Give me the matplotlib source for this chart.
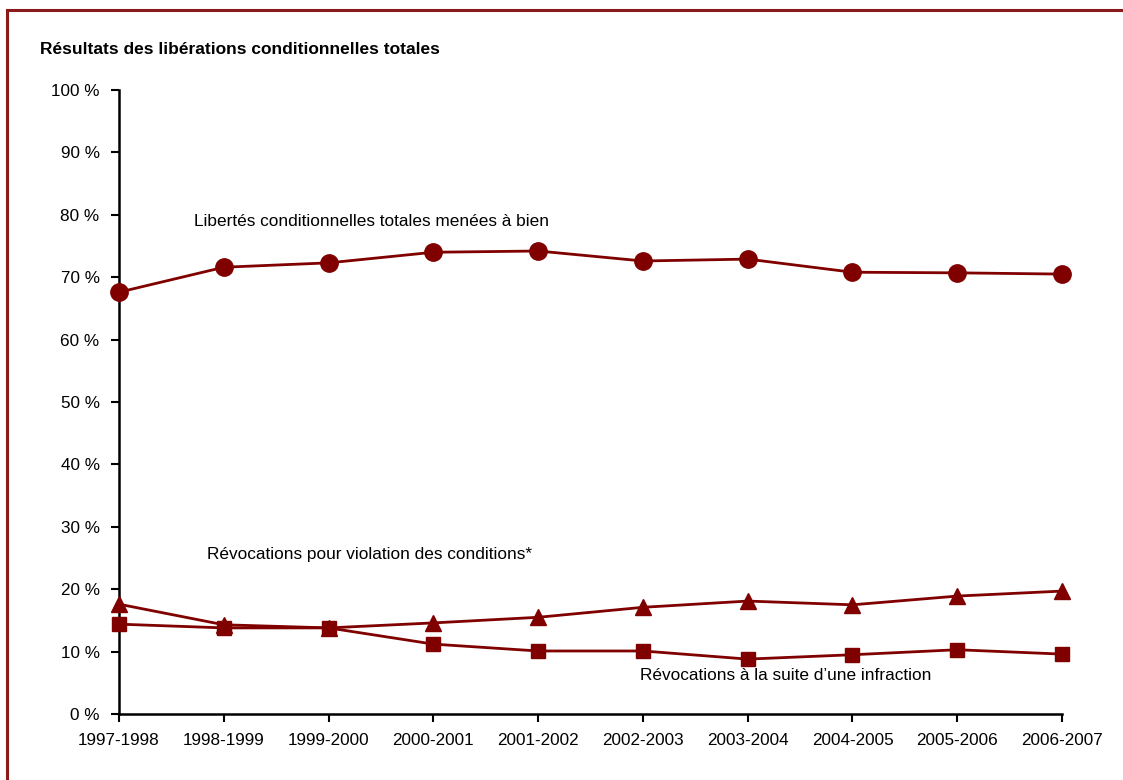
import matplotlib
matplotlib.use('Agg')
import matplotlib.pyplot as plt
from matplotlib.lines import Line2D

plt.rcParams['font.family'] = ['Liberation Sans', 'DejaVu Sans']

annees = ['1997-1998', '1998-1999', '1999-2000', '2000-2001', '2001-2002',
          '2002-2003', '2003-2004', '2004-2005', '2005-2006', '2006-2007']
menees_a_bien = [67.6, 71.6, 72.3, 74.0, 74.2, 72.6, 72.9, 70.8, 70.7, 70.5]
violation = [17.6, 14.3, 13.8, 14.6, 15.5, 17.1, 18.1, 17.5, 18.9, 19.7]
infraction = [14.4, 13.8, 13.8, 11.2, 10.1, 10.1, 8.8, 9.5, 10.3, 9.6]

rouge = '#800000'
x = range(len(annees))

fig = plt.figure(figsize=(11.23, 7.8), dpi=100)
ax = fig.add_axes([0.106, 0.0846, 0.8397, 0.80])

ax.plot(x, menees_a_bien, color=rouge, lw=2, marker='o', ms=12.5, zorder=3, clip_on=False)
ax.plot(x, violation, color=rouge, lw=2, marker='^', ms=12, zorder=3, clip_on=False)
ax.plot(x, infraction, color=rouge, lw=2, marker='s', ms=10.5, zorder=3, clip_on=False)

ax.set_xlim(0, len(annees) - 1)
ax.set_ylim(0, 100)
ax.set_yticks(range(0, 101, 10))
ax.set_yticklabels([f'{v} %' for v in range(0, 101, 10)])
ax.set_xticks(list(x))
ax.set_xticklabels(annees)
ax.tick_params(axis='both', labelsize=12.3, length=6, width=1.5, direction='out', pad=8)
for s in ['top', 'right']:
    ax.spines[s].set_visible(False)
for s in ['left', 'bottom']:
    ax.spines[s].set_linewidth(1.8)
ax.patch.set_visible(False)

etiq = dict(fontsize=12.4, va='center', ha='left')
ax.text(0.716, 79.0, 'Libertés conditionnelles totales menées à bien', **etiq)
ax.text(0.84, 25.6, 'Révocations pour violation des conditions*', **etiq)
ax.text(4.97, 6.25, 'Révocations à la suite d\u2019une infraction', **etiq)

fig.text(0.0356, 0.936, 'Résultats des libérations conditionnelles totales',
         fontsize=12.5, fontweight='bold', va='center')

# cadre rouge
fig.add_artist(Line2D([0.0062, 1.0], [1 - 10 / 780, 1 - 10 / 780], color='#8b1a1a', lw=2.2))
fig.add_artist(Line2D([0.0062, 0.0062], [0, 1 - 10 / 780], color='#8b1a1a', lw=2.2))

fig.savefig('out.png', dpi=100)
